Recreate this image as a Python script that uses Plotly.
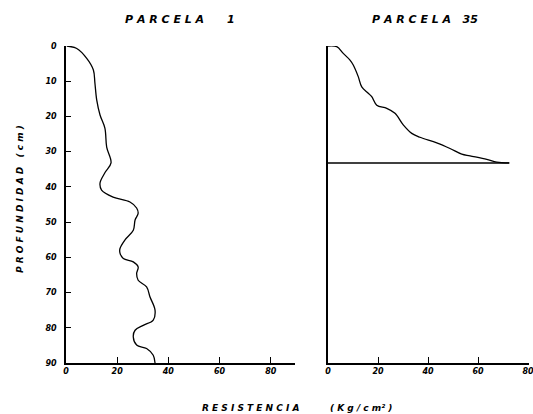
import plotly.graph_objects as go

# Parcela 1: resistance (kg/cm2) vs depth (cm)
p1_res = [0.3, 4.2, 8.1, 10.7, 11.3, 12.0, 13.3, 15.2, 15.9, 17.6, 15.2, 13.3, 13.9, 18.4, 25.0, 27.6, 28.2,
          27.0, 26.3, 23.0, 21.1, 21.1, 22.4, 26.3, 28.2, 27.6, 28.2, 31.5, 32.8, 34.8, 34.1, 30.2, 27.0,
          26.3, 27.6, 31.5, 34.1, 34.8]
p1_depth = [0, 0.7, 3.5, 6.8, 10.5, 15.3, 19.6, 23.3, 28.7, 33.2, 36.0, 38.9, 40.9, 42.9, 44.3, 46.0, 47.5,
            49.4, 52.3, 55.1, 57.5, 58.8, 60.3, 61.3, 62.7, 64.6, 66.5, 68.4, 71.2, 75.0, 77.8, 79.3, 80.7,
            82.6, 84.9, 85.9, 87.8, 90.0]

# Parcela 35
p35_res = [0, 3.5, 6.1, 8.8, 10.1, 12.1, 13.5, 16.1, 17.5, 19.5, 23.5, 26.8, 30.1, 33.5, 36.8, 43.5, 48.8,
           53.5, 56.8, 63.5, 67.5, 72.5]
p35_depth = [0, 0.2, 2.1, 4.0, 5.4, 8.7, 11.6, 13.4, 14.4, 16.8, 17.7, 19.1, 22.4, 24.8, 25.9, 27.5, 29.1,
             30.7, 31.2, 32.2, 33.0, 33.2]
p35_stop_depth = 33.2
p35_stop_res = 72.5

x_ticks = [0, 20, 40, 60, 80]
y_ticks = [0, 10, 20, 30, 40, 50, 60, 70, 80, 90]

W, H = 533, 414
def px(x): return x / W
def py(y): return 1 - y / H

tickfont = dict(family="DejaVu Sans", size=8, color="black", style="italic", weight="bold")
lab_font = dict(family="DejaVu Sans", size=9, color="black", style="italic", weight="bold")
title_font = dict(family="DejaVu Sans", size=11, color="black", style="italic", weight="bold")

fig = go.Figure()
fig.add_trace(go.Scatter(x=p1_res, y=p1_depth, mode="lines", line=dict(color="black", width=1.3, shape="spline"),
                         xaxis="x", yaxis="y", showlegend=False))
fig.add_trace(go.Scatter(x=p35_res, y=p35_depth, mode="lines", line=dict(color="black", width=1.3, shape="spline"),
                         xaxis="x2", yaxis="y2", showlegend=False))
fig.add_trace(go.Scatter(x=[0, p35_stop_res], y=[p35_stop_depth, p35_stop_depth], mode="lines",
                         line=dict(color="black", width=1.5), xaxis="x2", yaxis="y2", showlegend=False))

ydom = [py(363), py(46)]
common_x = dict(showline=True, linecolor="black", linewidth=1.5, showgrid=False, zeroline=False,
                ticks="inside", ticklen=6, tickwidth=1, tickcolor="black", tickvals=x_ticks,
                tickfont=tickfont, ticklabeloverflow="allow", automargin=False)
fig.update_layout(
    width=W, height=H, autosize=False,
    margin=dict(l=0, r=0, t=0, b=0),
    paper_bgcolor="white", plot_bgcolor="white",
    xaxis=dict(domain=[px(66), px(295)], range=[0, 89.5], anchor="y", **common_x),
    xaxis2=dict(domain=[px(328), px(529)], range=[0, 80.4], anchor="y2", **common_x),
    yaxis=dict(domain=ydom, range=[90, 0], anchor="x", showline=True, linecolor="black", linewidth=1.5,
               showgrid=False, zeroline=False, ticks="inside", ticklen=5, tickwidth=1, tickcolor="black",
               tickvals=y_ticks, tickfont=tickfont, ticklabelstandoff=6, automargin=False),
    yaxis2=dict(domain=ydom, range=[90, 0], anchor="x2", showline=True, linecolor="black", linewidth=1.5,
                showgrid=False, zeroline=False, showticklabels=False, ticks="", automargin=False),
)

nb = "\u00a0"
def spaced(s, gap=1):
    return (nb * gap).join(list(s)).replace(" ", nb)

fig.add_annotation(text=spaced("PARCELA") + nb * 6 + "1", x=px(180), y=py(20), font=title_font,
                   xref="paper", yref="paper", showarrow=False, xanchor="center", yanchor="middle")
fig.add_annotation(text=spaced("PARCELA") + nb * 3 + "35", x=px(425), y=py(20), font=title_font,
                   xref="paper", yref="paper", showarrow=False, xanchor="center", yanchor="middle")
fig.add_annotation(text=spaced("RESISTENCIA"), x=px(250), y=py(408), font=lab_font,
                   xref="paper", yref="paper", showarrow=False, xanchor="center", yanchor="middle")
fig.add_annotation(text="(" + nb + "K" + nb + "g" + nb + "/" + nb + "c" + nb + "m²" + nb + ")", x=px(361), y=py(408),
                   font=lab_font, xref="paper", yref="paper", showarrow=False, xanchor="center", yanchor="middle")
fig.add_annotation(xref="paper", yref="paper", showarrow=False, x=px(20), y=py(199), textangle=-90,
                   xanchor="center", yanchor="middle",
                   text=spaced("PROFUNDIDAD") + nb * 3 + "(" + nb + "c" + nb + "m" + nb + ")",
                   font=lab_font)

fig.write_html("out.html")
